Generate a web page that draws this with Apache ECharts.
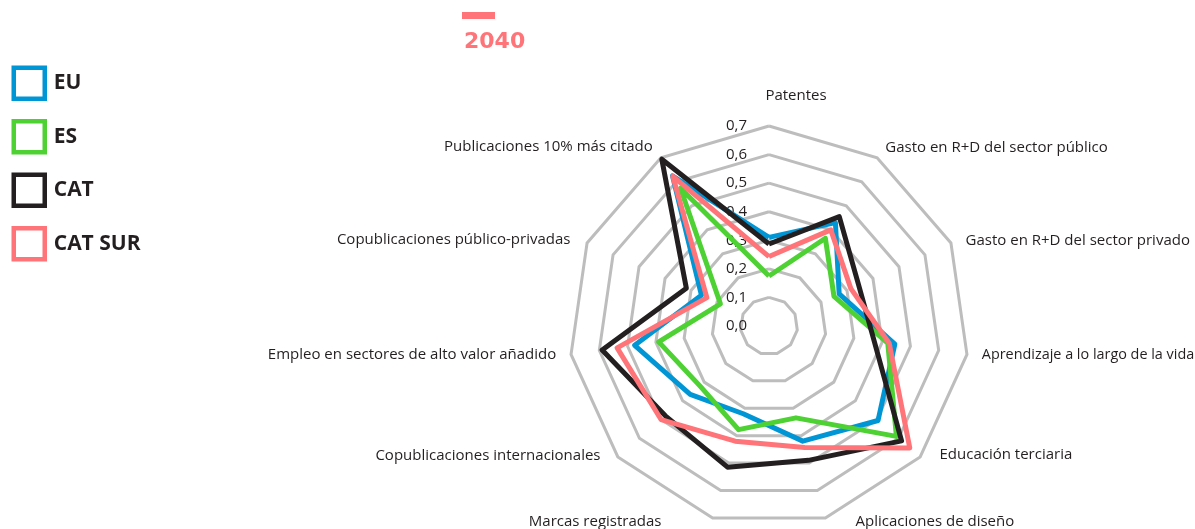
<!DOCTYPE html>
<html>
<head>
<meta charset="utf-8">
<script src="https://cdn.jsdelivr.net/npm/echarts@6/dist/echarts.min.js"></script>
<style>
  html, body { margin: 0; padding: 0; background: #fff; }
  #main { width: 1195px; height: 529px; }
</style>
</head>
<body>
<div id="main"></div>
<script>
var myChart = echarts.init(document.getElementById('main'));

// indicadores, en sentido horario desde arriba
var categories = [
  'Patentes',
  'Gasto en R+D del sector público',
  'Gasto en R+D del sector privado',
  'Aprendizaje a lo largo de la vida',
  'Educación terciaria',
  'Aplicaciones de diseño',
  'Marcas registradas',
  'Copublicaciones internacionales',
  'Empleo en sectores de alto valor añadido',
  'Copublicaciones público-privadas',
  'Publicaciones 10% más citado'
];

var seriesNames = ['EU', 'ES', 'CAT', 'CAT SUR'];
var dataEU = [0.31, 0.43, 0.27, 0.445, 0.505, 0.42, 0.32, 0.365, 0.475, 0.26, 0.625];
var dataES = [0.175, 0.365, 0.25, 0.42, 0.59, 0.335, 0.378, 0.32, 0.39, 0.187, 0.573];
var dataCAT = [0.287, 0.455, 0.345, 0.372, 0.614, 0.49, 0.515, 0.48, 0.59, 0.318, 0.694];
var dataCATSUR = [0.243, 0.40, 0.315, 0.425, 0.652, 0.443, 0.42, 0.50, 0.537, 0.239, 0.623];

var axisMin = 0;
var axisMax = 0.7;
var splitCount = 7;
var yearTitle = '2040';

var colors = ['#0096d6', '#4dd133', '#231f20', '#ff7478'];

// padding de cada etiqueta de eje [arriba, derecha, abajo, izquierda]
var namePadding = [
  [0, 0, 8, 54],
  [5, 0, 0, 0],
  [8, 0, 0, 1],
  [0, 0, 3, 0],
  [0, 0, 24, 8],
  [0, 0, 22, 26],
  [0, 47, 22, 0],
  [0, 6, 22, 0],
  [0, 0, 4, 0],
  [7, 3, 0, 0],
  [4, 0, 0, 0]
];

// echarts dibuja el radar en sentido antihorario: se invierte el orden
var order = [0];
for (var i = categories.length - 1; i > 0; i--) order.push(i);

var rich = {};
categories.forEach(function (c, i) {
  rich['n' + i] = {
    padding: namePadding[i],
    fontSize: i === 3 ? 14.4 : 15,
    color: '#231f20',
    fontFamily: 'Open Sans'
  };
});

var indicator = order.map(function (i) {
  var ind = { name: categories[i], min: axisMin, max: axisMax };
  if (i === 0) {
    ind.axisLabel = {
      show: true,
      margin: 22,
      fontSize: 15,
      color: '#231f20',
      fontFamily: 'Open Sans',
      formatter: function (v) { return Number(v).toFixed(1).replace('.', ','); }
    };
  }
  return ind;
});

var allData = [dataEU, dataES, dataCAT, dataCATSUR];

var option = {
  animation: false,
  color: colors,
  title: {
    text: yearTitle,
    left: 459,
    top: 26,
    textStyle: {
      color: '#ff7478',
      fontSize: 22,
      fontWeight: 'bold',
      fontFamily: 'DejaVu Sans'
    }
  },
  graphic: [{
    type: 'rect',
    shape: { x: 462, y: 12, width: 33, height: 7 },
    style: { fill: '#ff7478' }
  }],
  legend: {
    orient: 'vertical',
    left: 11.5,
    top: 65.5,
    padding: 0,
    itemWidth: 31,
    itemHeight: 31,
    itemGap: 18,
    selectedMode: false,
    textStyle: {
      fontSize: 21,
      fontWeight: 'bold',
      color: '#231f20',
      fontFamily: 'Open Sans',
      padding: [0, 0, 0, 4]
    },
    data: seriesNames.map(function (n, i) {
      return {
        name: n,
        icon: 'rect',
        itemStyle: { color: '#fff', borderColor: colors[i], borderWidth: 4.5 }
      };
    })
  },
  radar: {
    center: [769, 326],
    radius: 200,
    startAngle: 90,
    shape: 'polygon',
    splitNumber: splitCount,
    axisNameGap: 15,
    axisName: {
      color: '#231f20',
      fontSize: 15,
      fontFamily: 'Open Sans',
      formatter: function (name) {
        var i = categories.indexOf(name);
        return '{n' + i + '|' + name + '}';
      },
      rich: rich
    },
    axisLine: { show: false },
    axisTick: { show: false },
    axisLabel: { show: false },
    splitArea: { show: false },
    splitLine: { lineStyle: { color: '#bdbdbd', width: 3 } },
    indicator: indicator
  },
  series: [{
    type: 'radar',
    symbol: 'none',
    data: seriesNames.map(function (n, k) {
      return {
        name: n,
        value: order.map(function (i) { return allData[k][i]; }),
        lineStyle: { color: colors[k], width: 5 },
        itemStyle: { color: colors[k] }
      };
    })
  }]
};

myChart.setOption(option);
</script>
</body>
</html>
